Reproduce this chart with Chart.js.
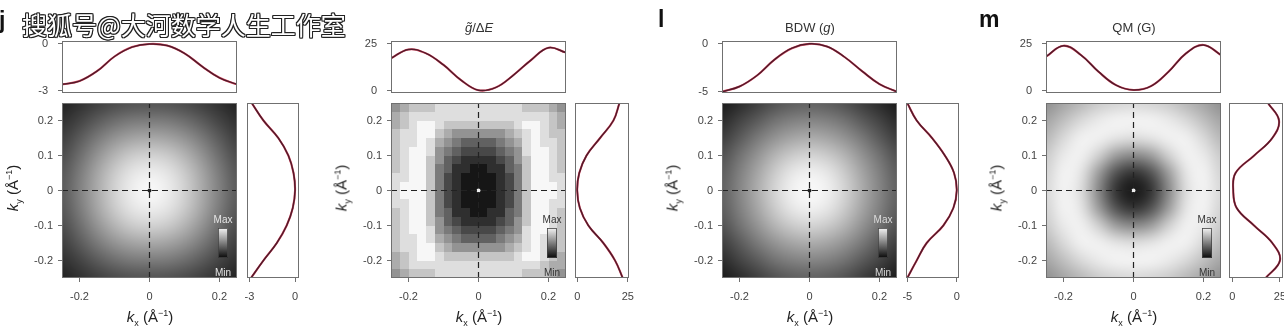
<!DOCTYPE html>
<html>
<head>
<meta charset="utf-8">
<script src="https://cdn.jsdelivr.net/npm/chart.js@4"></script>
<style>
  html, body { margin:0; padding:0; background:#fff; width:1284px; height:332px; overflow:hidden; position:relative;
    font-family:"Liberation Sans", Arial, sans-serif; }
  canvas { position:absolute; }
  .txt { position:absolute; white-space:nowrap; color:#333; }
  .letter { font-weight:bold; font-size:23px; line-height:23px; color:#111; }
  .ptitle { font-size:13px; line-height:14px; transform:translateX(-50%); }
  .axt { font-size:15px; line-height:17px; color:#222; }
  .axt sub, .axt sup { font-size:9px; }
  .wm { left:22px; top:12px; font-family:"Noto Sans CJK SC", sans-serif; font-size:25px; line-height:25px; color:#fff;
    text-shadow:1px 0 0 #222, -1px 0 0 #222, 0 1px 0 #222, 0 -1px 0 #222, 1px 1px 0 #222, -1px -1px 0 #222, 1px -1px 0 #222, -1px 1px 0 #222; }
</style>
</head>
<body>
<script>
// ---- DATA ----
const K_AXIS = [-0.25, -0.2, -0.15, -0.1, -0.05, 0, 0.05, 0.1, 0.15, 0.2, 0.25];
const HEAT_X_TICKS = [-0.2, 0, 0.2];
const HEAT_Y_TICKS = [-0.2, -0.1, 0, 0.1, 0.2];

// panel j
const J_TOP = [-2.58, -2.37, -1.74, -0.8, -0.2, 0, -0.1, -0.6, -1.43, -2.16, -2.58];
const J_RIGHT = [-2.9, -2.08, -1.2, -0.55, -0.15, 0, -0.1, -0.44, -1.1, -2.08, -2.85];
const J_TOP_TICKS = [-3, 0];
// brightness 0..100, rows from ky = 0.25 down to -0.25, columns kx = -0.25 .. 0.25
const J_MAP = [
  [ 8, 14, 20, 25, 28, 29, 28, 25, 20, 14,  8],
  [14, 22, 32, 40, 45, 46, 45, 40, 32, 22, 14],
  [20, 32, 45, 56, 63, 65, 63, 56, 45, 32, 20],
  [26, 40, 56, 70, 80, 83, 80, 70, 56, 40, 26],
  [30, 46, 64, 80, 91, 95, 91, 80, 64, 46, 30],
  [32, 48, 66, 83, 95, 100, 95, 83, 66, 48, 32],
  [30, 46, 64, 80, 91, 95, 91, 80, 64, 46, 30],
  [26, 40, 56, 70, 80, 83, 80, 70, 56, 40, 26],
  [20, 32, 45, 56, 63, 65, 63, 56, 45, 32, 20],
  [14, 22, 32, 40, 45, 46, 45, 40, 32, 22, 14],
  [ 8, 14, 20, 25, 28, 29, 28, 25, 20, 14,  8]
];

// panel k
const K_TOP = [17.3, 22.1, 20, 13.8, 5.7, 0.3, 1.8, 8.4, 16.4, 23, 20.4];
const K_RIGHT = [22.5, 18.7, 12.9, 5.5, 1.3, 0, 1, 4.6, 11.3, 17.9, 20.9];
const K_TOP_TICKS = [0, 25];
// grey levels 0 (black) .. 9 (white), 20 x 20 blocks, top row = ky 0.25
const K_MAP = [
  "56777888888888877765",
  "67888888888888888876",
  "67899877777777899876",
  "78899765555556789877",
  "78898654333345689887",
  "78998543222234589987",
  "78997532111123579987",
  "78997431100113479987",
  "88997421000012479988",
  "89997421000012479998",
  "89997421000012479998",
  "88997421000012479988",
  "78997431100113479987",
  "78997532111123579987",
  "78998543222234589987",
  "78898654333345689887",
  "78899765555556789877",
  "67899877777777899876",
  "67888888888888888766",
  "56777888888888877765"
];

// panel l
const L_TOP = [-5, -4.45, -3.3, -1.64, -0.45, 0, -0.27, -1.37, -2.84, -4.2, -5];
const L_RIGHT = [-5, -4.05, -3.04, -1.35, -0.34, 0, -0.27, -1.2, -2.5, -4.05, -5];
const L_TOP_TICKS = [-5, 0];
const L_MAP = [
  [ 5, 12, 20, 28, 33, 35, 33, 28, 20, 12,  5],
  [12, 22, 32, 42, 48, 50, 48, 42, 32, 22, 12],
  [20, 32, 45, 56, 64, 67, 64, 56, 45, 32, 20],
  [28, 42, 56, 70, 80, 84, 80, 70, 56, 42, 28],
  [33, 48, 64, 80, 92, 96, 92, 80, 64, 48, 33],
  [35, 50, 67, 84, 96, 100, 96, 84, 67, 50, 35],
  [33, 48, 64, 80, 92, 96, 92, 80, 64, 48, 33],
  [28, 42, 56, 70, 80, 84, 80, 70, 56, 42, 28],
  [20, 32, 45, 56, 64, 67, 64, 56, 45, 32, 20],
  [12, 22, 32, 42, 48, 50, 48, 42, 32, 22, 12],
  [ 5, 12, 20, 28, 33, 35, 33, 28, 20, 12,  5]
];

// panel m
const M_TOP = [18.2, 24.1, 19.1, 10.2, 3, 0.4, 2.5, 10.2, 20, 24.5, 19.1];
const M_RIGHT = [17.5, 25, 21, 11.4, 2.3, 0.5, 1.7, 11.5, 21, 24.5, 18.7];
const M_TOP_TICKS = [0, 25];
const M_MAP = [
  [55, 64, 72, 80, 84, 86, 84, 80, 72, 64, 55],
  [64, 75, 86, 93, 97, 97, 97, 93, 86, 75, 64],
  [72, 86, 96, 96, 91, 88, 91, 96, 96, 86, 72],
  [80, 93, 96, 82, 60, 52, 60, 82, 96, 93, 80],
  [84, 97, 91, 60, 28, 15, 28, 60, 91, 97, 84],
  [86, 97, 88, 52, 15,  3, 15, 52, 88, 97, 86],
  [84, 97, 91, 60, 28, 15, 28, 60, 91, 97, 84],
  [80, 93, 96, 82, 60, 52, 60, 82, 96, 93, 80],
  [72, 86, 96, 96, 91, 88, 91, 96, 96, 86, 72],
  [64, 75, 86, 93, 97, 97, 97, 93, 86, 75, 64],
  [55, 64, 72, 80, 84, 86, 84, 80, 72, 64, 55]
];

// ---- LAYOUT ----
const HW = 175;               // heatmap width/height
const HY0 = 103, HY1 = 278;   // heatmap top / bottom
const TY0 = 41, TY1 = 93;     // top profile box

const PANELS = [
  {hx:62,   rx:247,  rw:52, top:J_TOP, right:J_RIGHT, ticks:J_TOP_TICKS, topRange:[-3.13, 0.19], rightRange:[-3.16, 0.26],
   map:J_MAP, blocky:false, barText:'#e6e6e6', dot:'#222', title:''},
  {hx:391,  rx:575,  rw:54, top:K_TOP, right:K_RIGHT, ticks:K_TOP_TICKS, topRange:[-1.2, 26.6], rightRange:[-1.1, 25.6],
   map:K_MAP, blocky:true, barText:'#333', dot:'#eee', title:'<i>g̃</i>/Δ<i>E</i>'},
  {hx:722,  rx:906,  rw:53, top:L_TOP, right:L_RIGHT, ticks:L_TOP_TICKS, topRange:[-5.13, 0.3], rightRange:[-5.13, 0.23],
   map:L_MAP, blocky:false, barText:'#dcdcdc', dot:'#222', title:'BDW (<i>g</i>)'},
  {hx:1046, rx:1229, rw:54, top:M_TOP, right:M_RIGHT, ticks:M_TOP_TICKS, topRange:[-1.2, 26.6], rightRange:[-1.73, 26.6],
   map:M_MAP, blocky:false, barText:'#333', dot:'#eee', title:'QM (G)'}
];

const TICK_FONT = {family:'"Liberation Sans", Arial, sans-serif', size:11};
const TICK_COLOR = '#444';
const FRAME_COLOR = '#707070';
const DARK_LINE = '#521a2a';
const RED_LINE = '#e2566c';

// ---- PLUGINS ----
const frame = {
  id: 'frame',
  afterDraw(chart) {
    const {ctx, chartArea: a} = chart;
    ctx.save();
    ctx.strokeStyle = FRAME_COLOR;
    ctx.lineWidth = 1;
    ctx.strokeRect(a.left + 0.5, a.top + 0.5, a.width - 1, a.height - 1);
    ctx.restore();
  }
};

const heat = {
  id: 'heat',
  beforeDatasetsDraw(chart, args, opts) {
    const {ctx, chartArea: a, scales: {x, y}} = chart;
    const rows = opts.map;
    const n = rows.length;
    const off = document.createElement('canvas');
    off.width = n; off.height = n;
    const oc = off.getContext('2d');
    const img = oc.createImageData(n, n);
    for (let r = 0; r < n; r++) {
      for (let c = 0; c < n; c++) {
        let g;
        if (opts.blocky) g = 22 + Number(rows[r][c]) * 25;
        else g = 15 + rows[r][c] * 2.35;
        const i = (r * n + c) * 4;
        img.data[i] = img.data[i + 1] = img.data[i + 2] = Math.round(g);
        img.data[i + 3] = 255;
      }
    }
    oc.putImageData(img, 0, 0);
    // smooth maps hold samples at the grid points, blocky maps hold cells
    const half = opts.blocky ? 0 : 0.25 / (n - 1);
    const x0 = x.getPixelForValue(-0.25 - half), x1 = x.getPixelForValue(0.25 + half);
    const y0 = y.getPixelForValue(0.25 + half), y1 = y.getPixelForValue(-0.25 - half);
    ctx.save();
    ctx.beginPath();
    ctx.rect(a.left, a.top, a.width, a.height);
    ctx.clip();
    ctx.imageSmoothingEnabled = !opts.blocky;
    ctx.imageSmoothingQuality = 'high';
    ctx.drawImage(off, x0, y0, x1 - x0, y1 - y0);
    ctx.restore();
  },
  afterDatasetsDraw(chart, args, opts) {
    // Max / Min colour bar inset
    const {ctx, chartArea: a} = chart;
    const bx = a.left + 156, by = a.top + 125, bw = 10, bh = 30;
    const grad = ctx.createLinearGradient(0, by, 0, by + bh);
    grad.addColorStop(0, '#f4f4f4');
    grad.addColorStop(1, '#080808');
    ctx.save();
    ctx.fillStyle = grad;
    ctx.fillRect(bx, by, bw, bh);
    ctx.strokeStyle = '#444';
    ctx.lineWidth = 0.8;
    ctx.strokeRect(bx + 0.5, by + 0.5, bw - 1, bh - 1);
    ctx.fillStyle = opts.barText;
    ctx.font = '10px "Liberation Sans", Arial, sans-serif';
    ctx.textAlign = 'center';
    ctx.textBaseline = 'middle';
    ctx.fillText('Max', bx + bw / 2, by - 8);
    ctx.fillText('Min', bx + bw / 2, by + bh + 15);
    ctx.restore();
  }
};

// ---- HELPERS ----
function addCanvas(left, top, w, h) {
  const c = document.createElement('canvas');
  c.width = w; c.height = h;
  c.style.left = left + 'px'; c.style.top = top + 'px';
  c.style.width = w + 'px'; c.style.height = h + 'px';
  document.body.appendChild(c);
  return c;
}

function addText(cls, html, css) {
  const d = document.createElement('div');
  d.className = 'txt ' + cls;
  d.innerHTML = html;
  d.style.cssText = css;
  document.body.appendChild(d);
  return d;
}

function fixedTicks(vals) {
  return (s) => { s.ticks = vals.map(v => ({value: v})); };
}

// fixed scale size, and no extra room for overhanging labels (layout padding handles it)
function fitTo(prop, size) {
  return (s) => {
    s[prop] = size;
    s.paddingTop = 0; s.paddingBottom = 0; s.paddingLeft = 0; s.paddingRight = 0;
  };
}

function profileSets(points) {
  return [
    {data: points, showLine: true, borderColor: DARK_LINE, borderWidth: 1.5, pointRadius: 0, tension: 0.4, fill: false},
    {data: points, showLine: true, borderColor: RED_LINE, borderWidth: 2.1, pointRadius: 0, tension: 0.4, fill: false}
  ];
}

const tickGrid = {drawOnChartArea: false, drawTicks: true, tickLength: 4, color: FRAME_COLOR};
const baseOpts = {
  responsive: false,
  animation: false,
  devicePixelRatio: 1,
  events: [],
};
const noPlugins = {legend: {display: false}, tooltip: {enabled: false}};

// ---- CHARTS ----
PANELS.forEach(p => {
  // top profile
  const ct = addCanvas(p.hx - 40, TY0 - 11, 40 + HW + 6, 11 + (TY1 - TY0) + 6);
  new Chart(ct, {
    type: 'scatter',
    data: {datasets: profileSets(K_AXIS.map((k, i) => ({x: k, y: p.top[i]})))},
    options: Object.assign({}, baseOpts, {
      layout: {padding: {top: 11, bottom: 6, left: 0, right: 6}},
      plugins: noPlugins,
      scales: {
        x: {type: 'linear', min: -0.25, max: 0.25, display: false},
        y: {
          type: 'linear', min: p.topRange[0], max: p.topRange[1],
          afterFit: fitTo('width', 40),
          afterBuildTicks: fixedTicks(p.ticks),
          ticks: {font: TICK_FONT, color: TICK_COLOR, padding: 10, callback: v => String(v)},
          grid: tickGrid,
          border: {display: false}
        }
      }
    }),
    plugins: [frame]
  });

  // heatmap
  const ch = addCanvas(p.hx - 62, HY0 - 4, 62 + HW + 6, 332 - (HY0 - 4));
  new Chart(ch, {
    type: 'scatter',
    data: {datasets: [
      {data: [{x: -0.25, y: 0}, {x: 0.25, y: 0}], showLine: true, borderColor: '#222', borderWidth: 1.2, borderDash: [6, 4], pointRadius: 0},
      {data: [{x: 0, y: -0.25}, {x: 0, y: 0.25}], showLine: true, borderColor: '#222', borderWidth: 1.2, borderDash: [6, 4], pointRadius: 0},
      {data: [{x: 0, y: 0}], pointRadius: 2, backgroundColor: p.dot, borderWidth: 0}
    ]},
    options: Object.assign({}, baseOpts, {
      layout: {padding: {top: 4, bottom: 0, left: 0, right: 6}},
      plugins: Object.assign({}, noPlugins, {heat: {map: p.map, blocky: p.blocky, barText: p.barText}}),
      scales: {
        x: {
          type: 'linear', min: -0.25, max: 0.25,
          afterFit: fitTo('height', 54),
          afterBuildTicks: fixedTicks(HEAT_X_TICKS),
          ticks: {font: TICK_FONT, color: TICK_COLOR, padding: 8, maxRotation: 0, callback: v => String(v)},
          grid: tickGrid,
          border: {display: false}
        },
        y: {
          type: 'linear', min: -0.25, max: 0.25,
          afterFit: fitTo('width', 62),
          afterBuildTicks: fixedTicks(HEAT_Y_TICKS),
          ticks: {font: TICK_FONT, color: TICK_COLOR, padding: 5, callback: v => String(v)},
          grid: tickGrid,
          border: {display: false}
        }
      }
    }),
    plugins: [heat, frame]
  });

  // right profile (value on x, ky on y)
  const cr = addCanvas(p.rx - 10, HY0 - 4, p.rw + 20, 332 - (HY0 - 4));
  new Chart(cr, {
    type: 'scatter',
    data: {datasets: profileSets(K_AXIS.map((k, i) => ({x: p.right[i], y: k})))},
    options: Object.assign({}, baseOpts, {
      layout: {padding: {top: 4, bottom: 0, left: 10, right: 10}},
      plugins: noPlugins,
      scales: {
        x: {
          type: 'linear', min: p.rightRange[0], max: p.rightRange[1],
          afterFit: fitTo('height', 54),
          afterBuildTicks: fixedTicks(p.ticks),
          ticks: {font: TICK_FONT, color: TICK_COLOR, padding: 8, maxRotation: 0, callback: v => String(v)},
          grid: tickGrid,
          border: {display: false}
        },
        y: {type: 'linear', min: -0.25, max: 0.25, display: false}
      }
    }),
    plugins: [frame]
  });

  // axis titles and panel title
  addText('axt', '<i>k</i><sub>x</sub> (Å<sup>−1</sup>)',
    `left:${p.hx + 88}px;top:318px;transform:translate(-50%,-50%);`);
  addText('axt', '<i>k</i><sub>y</sub> (Å<sup>−1</sup>)',
    `left:${p.hx - 48}px;top:188px;transform:translate(-50%,-50%) rotate(-90deg);`);
  if (p.title) addText('ptitle', p.title, `left:${p.hx + 88}px;top:21px;`);
});

// panel letters (k sits under the watermark)
addText('letter', 'j', 'left:-1px;top:9px;');
addText('letter', 'l', 'left:658px;top:8px;');
addText('letter', 'm', 'left:979px;top:8px;');
// watermark on top of the picture
addText('wm', '搜狐号@大河数学人生工作室', '');
</script>
</body>
</html>
